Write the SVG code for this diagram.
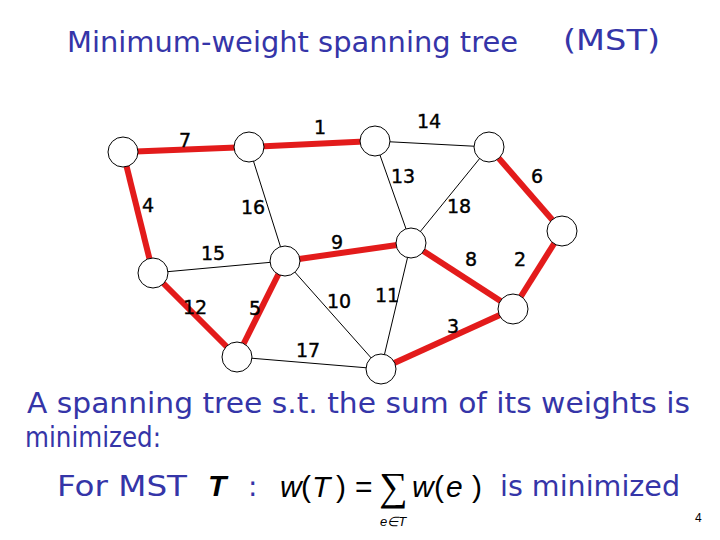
<svg xmlns="http://www.w3.org/2000/svg" width="720" height="540" viewBox="0 0 720 540">
<style>
.mst{stroke:#e31b1b;stroke-width:6;fill:none}
.e{stroke:#000;stroke-width:1;fill:none}
.n{fill:#fff;stroke:#000;stroke-width:1}
.w{font-family:"DejaVu Sans",sans-serif;font-size:19px;fill:#000;text-anchor:middle;stroke:#000;stroke-width:0.4}
.t{font-family:"DejaVu Sans","Liberation Sans",sans-serif;font-size:28px;fill:#3535a8}
.m{font-family:"Liberation Sans",sans-serif;font-size:30px;fill:#000}
</style>
<rect width="720" height="540" fill="#fff"/>
<text class="t" x="67" y="52" textLength="451" lengthAdjust="spacingAndGlyphs">Minimum-weight spanning tree</text>
<text class="t" x="563" y="50" textLength="97" lengthAdjust="spacingAndGlyphs">(MST)</text>
<g id="edges">
<line class="mst" x1="123" y1="152" x2="249" y2="147"/>
<line class="mst" x1="249" y1="147" x2="375" y2="141"/>
<line class="mst" x1="123" y1="152" x2="153" y2="273"/>
<line class="mst" x1="489" y1="147" x2="562" y2="231"/>
<line class="mst" x1="153" y1="273" x2="237" y2="357"/>
<line class="mst" x1="237" y1="357" x2="285" y2="261"/>
<line class="mst" x1="285" y1="261" x2="411" y2="243"/>
<line class="mst" x1="411" y1="243" x2="513" y2="309"/>
<line class="mst" x1="513" y1="309" x2="562" y2="231"/>
<line class="mst" x1="513" y1="309" x2="381" y2="369"/>
<line class="e" x1="375" y1="141" x2="489" y2="147"/>
<line class="e" x1="375" y1="141" x2="411" y2="243"/>
<line class="e" x1="489" y1="147" x2="411" y2="243"/>
<line class="e" x1="249" y1="147" x2="285" y2="261"/>
<line class="e" x1="153" y1="273" x2="285" y2="261"/>
<line class="e" x1="285" y1="261" x2="381" y2="369"/>
<line class="e" x1="411" y1="243" x2="381" y2="369"/>
<line class="e" x1="237" y1="357" x2="381" y2="369"/>
</g>
<g id="nA"><circle class="n" cx="123" cy="152" r="15"/></g>
<g id="nB"><circle class="n" cx="249" cy="147" r="15"/></g>
<g id="nC"><circle class="n" cx="375" cy="141" r="15"/></g>
<g id="nD"><circle class="n" cx="489" cy="147" r="15"/></g>
<g id="nE"><circle class="n" cx="562" cy="231" r="15"/></g>
<g id="nF"><circle class="n" cx="411" cy="243" r="15"/></g>
<g id="nG"><circle class="n" cx="153" cy="273" r="15"/></g>
<g id="nH"><circle class="n" cx="285" cy="261" r="15"/></g>
<g id="nI"><circle class="n" cx="237" cy="357" r="15"/></g>
<g id="nJ"><circle class="n" cx="513" cy="309" r="15"/></g>
<g id="nK"><circle class="n" cx="381" cy="369" r="15"/></g>
<g id="labels">
<text class="w" x="185" y="147">7</text>
<text class="w" x="320" y="134">1</text>
<text class="w" x="429" y="128">14</text>
<text class="w" x="148" y="212">4</text>
<text class="w" x="253" y="214">16</text>
<text class="w" x="403" y="183">13</text>
<text class="w" x="459" y="213">18</text>
<text class="w" x="537" y="183">6</text>
<text class="w" x="213" y="260">15</text>
<text class="w" x="337" y="249">9</text>
<text class="w" x="471" y="266">8</text>
<text class="w" x="520" y="266">2</text>
<text class="w" x="195" y="314">12</text>
<text class="w" x="255" y="315">5</text>
<text class="w" x="339" y="308">10</text>
<text class="w" x="387" y="302">11</text>
<text class="w" x="453" y="333">3</text>
<text class="w" x="308" y="357">17</text>
</g>
<text class="t" x="27" y="413" textLength="663" lengthAdjust="spacingAndGlyphs">A spanning tree s.t. the sum of its weights is</text>
<text class="t" x="25" y="447" font-size="26" textLength="136" lengthAdjust="spacingAndGlyphs">minimized:</text>
<text class="t" x="57" y="496" textLength="130" lengthAdjust="spacingAndGlyphs">For MST</text>
<text x="208" y="496" font-family="Liberation Sans,sans-serif" font-size="30" font-style="italic" font-weight="bold" fill="#000">T</text>
<text class="t" x="248" y="496">:</text>
<text class="m" x="280" y="497" font-style="italic">w</text>
<text class="m" x="301" y="497">(</text>
<text class="m" x="312" y="497" font-style="italic">T</text>
<text class="m" x="336" y="497">)</text>
<text class="m" x="355" y="497">=</text>
<text x="379" y="500" font-family="Liberation Serif,serif" font-size="40" fill="#000">∑</text>
<text class="m" x="412" y="497" font-style="italic">w</text>
<text class="m" x="434" y="497">(</text>
<text class="m" x="446" y="497" font-style="italic">e</text>
<text class="m" x="472" y="497">)</text>
<text x="380" y="526" font-family="Liberation Sans,sans-serif" font-size="13" font-style="italic" fill="#000">e∈T</text>
<text class="t" x="500" y="496" textLength="180" lengthAdjust="spacingAndGlyphs">is minimized</text>
<text x="695" y="522" font-family="Liberation Sans,sans-serif" font-size="12" fill="#000">4</text>
</svg>
